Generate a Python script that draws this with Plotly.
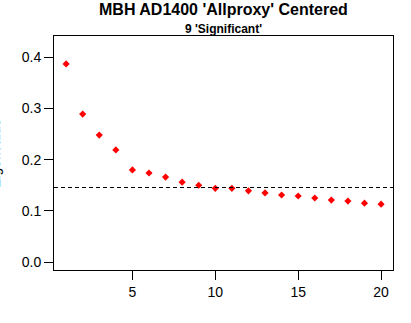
import plotly.graph_objects as go

# Scree-style plot: eigenvalue by principal component index
pc_index = list(range(1, 21))
eigenvalues = [0.387, 0.289, 0.248, 0.219, 0.180, 0.174, 0.166, 0.156, 0.150, 0.144,
               0.144, 0.139, 0.135, 0.131, 0.129, 0.125, 0.121, 0.119, 0.115, 0.113]
significance_level = 0.1456

x_ticks = [5, 10, 15, 20]
y_ticks = [0.0, 0.1, 0.2, 0.3, 0.4]
y_tick_labels = ["0.0", "0.1", "0.2", "0.3", "0.4"]

title_text = "MBH AD1400 'Allproxy' Centered"
subtitle_text = "9 'Significant'"
y_title = "Eigenvalue"

FONT = "Arial, 'Liberation Sans', sans-serif"

W, H = 411, 323
L, R, T, B = 54, 18, 36, 53
plot_w = W - L - R
plot_h = H - T - B

fig = go.Figure()

fig.add_trace(go.Scatter(
    x=pc_index, y=eigenvalues, mode="markers",
    marker=dict(symbol="diamond", size=5.5, color="#ff0000", line=dict(width=0)),
    showlegend=False, hoverinfo="x+y",
))

# dashed reference level across the full plot width
fig.add_shape(type="line", xref="paper", yref="y",
              x0=0, x1=1, y0=significance_level, y1=significance_level,
              line=dict(color="black", width=1, dash="4px,3px"))

axis_common = dict(
    showgrid=False, zeroline=False, showline=True, linecolor="black", linewidth=1,
    mirror=True, ticks="outside", ticklen=9, tickwidth=1, tickcolor="black",
    tickfont=dict(family=FONT, size=14, color="black"),
)

fig.update_xaxes(range=[0.27, 20.72], tickvals=x_ticks, ticktext=[str(v) for v in x_ticks],
                 **axis_common)
fig.update_yaxes(range=[-0.0156, 0.4416], tickvals=y_ticks, ticktext=y_tick_labels,
                 **axis_common)

# main title (bottom edge just above the subtitle) and subtitle
fig.add_annotation(text=f"<b>{title_text}</b>", xref="paper", yref="paper",
                   x=0.5, y=1 + (T - 20) / plot_h, xanchor="center", yanchor="bottom",
                   showarrow=False, font=dict(family=FONT, size=16, color="black"))
fig.add_annotation(text=f"<b>{subtitle_text}</b>", xref="paper", yref="paper",
                   x=0.5, y=1 + (T - 20) / plot_h, xanchor="center", yanchor="top",
                   showarrow=False, font=dict(family=FONT, size=12, color="black"))
fig.add_annotation(text=y_title, xref="paper", yref="paper",
                   x=(5 - L) / plot_w, y=0.5, xanchor="right", yanchor="middle",
                   textangle=-90, showarrow=False,
                   font=dict(family=FONT, size=14, color="black"))

fig.update_layout(
    width=W, height=H,
    margin=dict(l=L, r=R, t=T, b=B, pad=0),
    paper_bgcolor="white", plot_bgcolor="white",
    showlegend=False,
)

fig.write_html("out.html")
